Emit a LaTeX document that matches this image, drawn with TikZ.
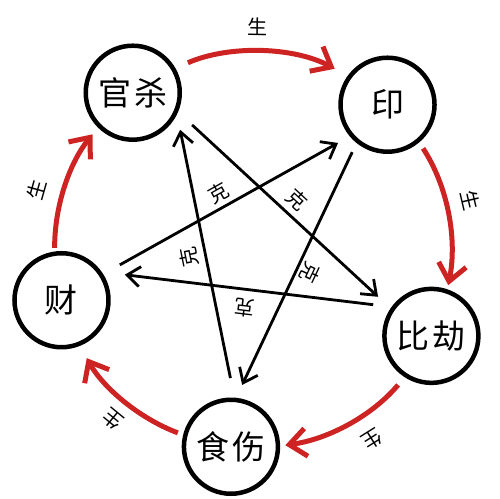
\documentclass[tikz,border=0pt]{standalone}
\usepackage{fontspec}
\newfontfamily\cjk{Noto Sans CJK SC}
\usetikzlibrary{arrows.meta}
\definecolor{shengred}{RGB}{205,35,35}
\begin{document}
\begin{tikzpicture}[x=1pt,y=1pt,
  elem/.style={circle, draw=black, line width=4.5pt, minimum size=94pt, inner sep=0pt,
    font=\cjk\fontsize{33}{33}\selectfont},
  sheng/.style={draw=shengred, line width=5pt, -{Straight Barb[length=17pt,width=28pt]}, looseness=0.89},
  ke/.style={draw=black, line width=2.8pt, -{Straight Barb[length=13pt,width=20pt]}},
  lbl/.style={font=\cjk\fontsize{20}{20}\selectfont, inner sep=0pt, sloped, allow upside down, text=black}
]
\useasboundingbox (0,0) rectangle (500,498);
\coordinate (O) at (253,248);
% five elements
\node[elem] (gs)  at ([shift={(127.4:198)}]O) {\raisebox{-2pt}{官\kern3pt 杀}};
\node[elem] (yin) at ([shift={(47.2:198)}]O)  {印};
\node[elem] (bj)  at ([shift={(-25.7:198)}]O) {比\kern3pt 劫};
\node[elem] (ss)  at ([shift={(-96.4:198)}]O) {食\kern3pt 伤};
\node[elem] (cai) at ([shift={(194.7:198)}]O) {财};
% generating cycle (red)
\draw[sheng, shorten <=13.6pt, shorten >=14.7pt] (gs.30) to[bend left=25.8]
  node[lbl, pos=0.468, yshift=25pt] (s1) {生} (yin.144);
\draw[sheng, shorten <=7.1pt, shorten >=4.2pt] (yin.-50) to[bend left=22.2]
  node[lbl, pos=0.45, yshift=24.7pt] (s2) {生} (bj.71);
\draw[sheng, shorten <=10.1pt, shorten >=5.2pt] (bj.-123) to[bend left=21.1]
  node[lbl, pos=0.425, yshift=26pt] (s3) {生} (ss.1);
\draw[sheng, shorten <=5.7pt, shorten >=14pt] (ss.166) to[bend left=20.2]
  node[lbl, pos=0.467, yshift=22.2pt] (s4) {生} (cai.-68);
\draw[sheng, shorten <=3.5pt, shorten >=8.7pt] (cai.98) to[bend left=19.4]
  node[lbl, pos=0.411, yshift=26pt] (s5) {生} (gs.-135);
% controlling star (black)
\draw[ke, shorten <=19.1pt, shorten >=17pt] (gs.-23) -- node[lbl, pos=0.508, yshift=16pt] (k1) {克} (bj.146);
\draw[ke, shorten <=10.1pt, shorten >=14.2pt] (yin.-129) -- node[lbl, pos=0.488, yshift=13.8pt] (k2) {克} (ss.84);
\draw[ke, shorten <=18.5pt, shorten >=23.1pt] (bj.144) -- node[lbl, pos=0.498, yshift=18.7pt] (k3) {克} (cai.35);
\draw[ke, shorten <=20pt, shorten >=15.8pt] (ss.86) -- node[lbl, pos=0.509, yshift=16.9pt] (k4) {克} (gs.-26);
\draw[ke, shorten <=19pt, shorten >=13.5pt] (cai.32) -- node[lbl, pos=0.495, yshift=14.6pt] (k5) {克} (yin.-140);
\end{tikzpicture}
\end{document}
